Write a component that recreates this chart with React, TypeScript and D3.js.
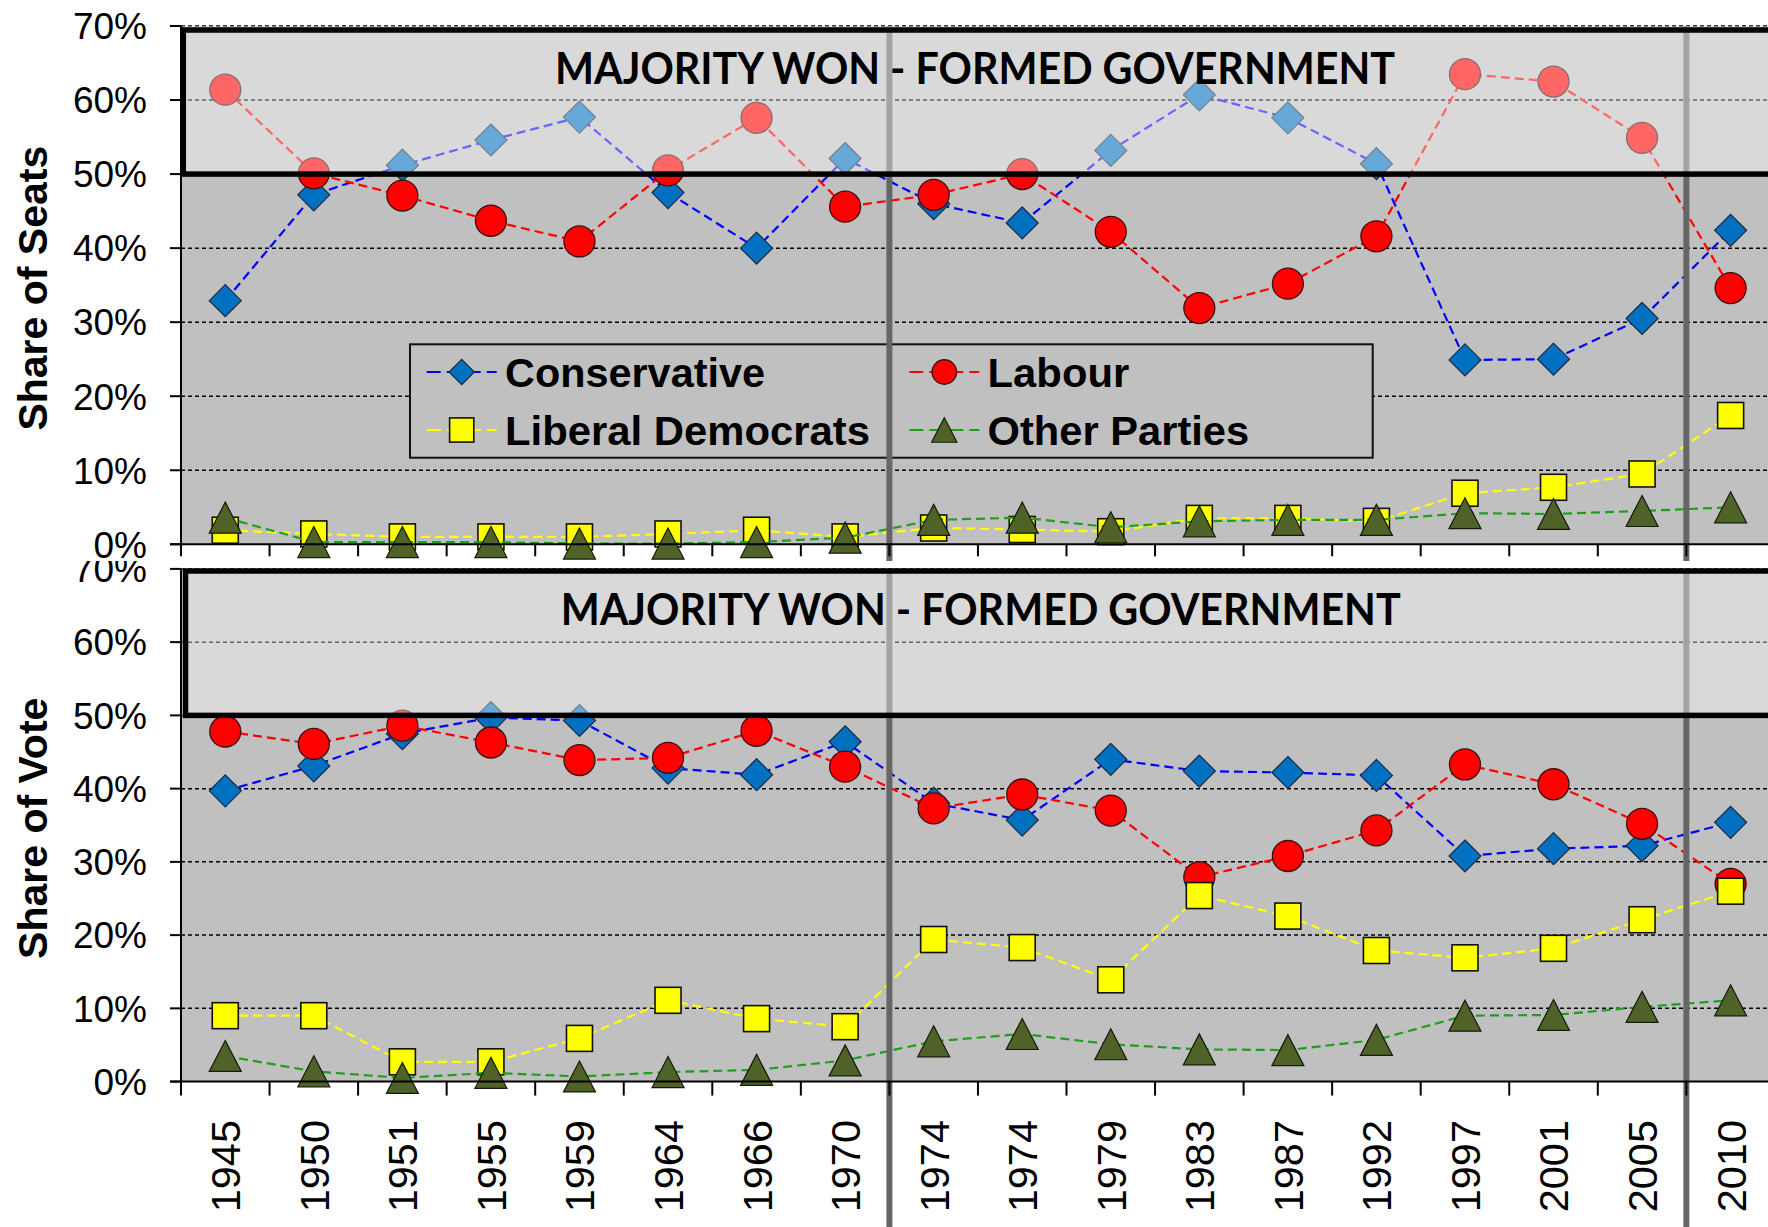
import React from "react";
import * as d3 from "d3";

// election years (two elections in 1974)
const years = ["1945", "1950", "1951", "1955", "1959", "1964", "1966", "1970", "1974", "1974", "1979", "1983", "1987", "1992", "1997", "2001", "2005", "2010"];

// share of seats
const conSeats = [0.329, 0.472, 0.512, 0.546, 0.577, 0.475, 0.400, 0.521, 0.460, 0.434, 0.532, 0.607, 0.576, 0.514, 0.249, 0.250, 0.305, 0.424];
const labSeats = [0.614, 0.501, 0.471, 0.437, 0.409, 0.505, 0.576, 0.456, 0.472, 0.500, 0.422, 0.319, 0.352, 0.416, 0.635, 0.625, 0.549, 0.346];
const libSeats = [0.019, 0.014, 0.010, 0.010, 0.010, 0.014, 0.019, 0.010, 0.022, 0.020, 0.017, 0.035, 0.035, 0.031, 0.069, 0.077, 0.095, 0.174];
const othSeats = [0.036, 0.003, 0.003, 0.003, 0.001, 0.001, 0.003, 0.009, 0.033, 0.036, 0.023, 0.031, 0.033, 0.033, 0.042, 0.041, 0.045, 0.050];

// share of vote
const conVote = [0.397, 0.431, 0.475, 0.497, 0.493, 0.428, 0.419, 0.464, 0.380, 0.357, 0.440, 0.424, 0.422, 0.418, 0.308, 0.318, 0.322, 0.354];
const labVote = [0.478, 0.461, 0.486, 0.463, 0.439, 0.442, 0.479, 0.430, 0.373, 0.392, 0.370, 0.279, 0.308, 0.343, 0.433, 0.406, 0.352, 0.270];
const libVote = [0.090, 0.090, 0.027, 0.027, 0.059, 0.111, 0.086, 0.075, 0.194, 0.183, 0.139, 0.254, 0.226, 0.179, 0.169, 0.182, 0.221, 0.260];
const othVote = [0.035, 0.014, 0.005, 0.012, 0.007, 0.013, 0.016, 0.029, 0.055, 0.065, 0.051, 0.044, 0.043, 0.057, 0.090, 0.091, 0.102, 0.111];

const yTicks = [0, 0.1, 0.2, 0.3, 0.4, 0.5, 0.6, 0.7];
const partyNames = ["Conservative", "Labour", "Liberal Democrats", "Other Parties"];
const titleText = "MAJORITY WON - FORMED GOVERNMENT";

const W = 1768;
const H = 1227;
const LEFT = 181;
const STEP = 88.55;
const ARIAL = "'Liberation Sans', Arial, sans-serif";

const styles = [
  { line: "#0000ff", fill: "#0070c0", stroke: "#1b2a40", shape: "diamond" },
  { line: "#ff0000", fill: "#ff0000", stroke: "#3a1010", shape: "circle" },
  { line: "#ffff00", fill: "#ffff00", stroke: "#111111", shape: "square" },
  { line: "#1f9e1f", fill: "#4f6228", stroke: "#151a0a", shape: "triangle" },
];
// measured widths of the legend labels
const legendWidths = [260, 141.6, 365, 261.6];

const x = d3
  .scaleBand<number>()
  .domain(d3.range(years.length))
  .range([LEFT, LEFT + STEP * years.length]);
const cx = (i: number) => (x(i) as number) + x.bandwidth() / 2;

function Marker({ shape, fill, stroke, s = 1 }: { shape: string; fill: string; stroke: string; s?: number }) {
  if (shape === "circle") return <circle r={15.5 * s} fill={fill} stroke={stroke} strokeWidth={1.3} />;
  if (shape === "square") return <rect x={-13 * s} y={-13 * s} width={26 * s} height={26 * s} fill={fill} stroke={stroke} strokeWidth={1.6} />;
  if (shape === "diamond")
    return <path d={`M0,${-16 * s}L${16 * s},0L0,${16 * s}L${-16 * s},0Z`} fill={fill} stroke={stroke} strokeWidth={1.2} />;
  return <path d={`M0,${-15.5 * s}L${16 * s},${15.5 * s}L${-16 * s},${15.5 * s}Z`} fill={fill} stroke={stroke} strokeWidth={1.2} />;
}

function Panel(props: {
  data: number[][];
  y: d3.ScaleLinear<number, number>;
  axisTitle: string;
  titleX: number;
  titleY: number;
  boxTop: number;
  boxLeft: number;
  sepBottom: number;
  tickLen: number;
  showYears: boolean;
  legend: boolean;
}) {
  const { data, y, axisTitle, titleX, titleY, boxTop, boxLeft, sepBottom, tickLen, showYears, legend } = props;
  const top = y(0.7);
  const bottom = y(0);
  const mid = y(0.5);
  const line = d3
    .line<number>()
    .x((_, i) => cx(i))
    .y((d) => y(d));

  return (
    <g>
      <rect x={LEFT} y={top} width={W - LEFT} height={bottom - top} fill="#c0c0c0" />
      {yTicks
        .filter((t) => t > 0)
        .map((t) => (
          <line key={t} x1={LEFT} x2={W} y1={y(t)} y2={y(t)} stroke="#000" strokeWidth={1.5} strokeDasharray="4,3" />
        ))}

      {data.map((vals, k) => (
        <g key={k}>
          <path d={line(vals) as string} fill="none" stroke={styles[k].line} strokeWidth={2.2} strokeDasharray="9,5" />
          {vals.map((v, i) => (
            <g key={i} transform={`translate(${cx(i)},${y(v)})`}>
              <Marker shape={styles[k].shape} fill={styles[k].fill} stroke={styles[k].stroke} />
            </g>
          ))}
        </g>
      ))}

      {legend && (
        <g>
          <rect x={410} y={344.3} width={962.7} height={113.4} fill="#c0c0c0" stroke="#111" strokeWidth={2} />
          {partyNames.map((name, k) => {
            const col = k % 2;
            const row = k < 2 ? 0 : 1;
            const lx = col === 0 ? 426.7 : 909.3;
            const ly = row === 0 ? 372 : 430;
            const st = styles[k];
            return (
              <g key={name}>
                <line x1={lx} x2={lx + 70} y1={ly} y2={ly} stroke={st.line} strokeWidth={2} strokeDasharray="14,6" />
                <g transform={`translate(${lx + 35},${ly})`}>
                  <Marker shape={st.shape} fill={st.fill} stroke={st.stroke} s={st.shape === "square" ? 0.93 : 0.79} />
                </g>
                <text
                  x={lx + 78.3}
                  y={ly + 14.5}
                  fontFamily={ARIAL}
                  fontWeight="bold"
                  fontSize={41}
                  textLength={legendWidths[k]}
                  lengthAdjust="spacingAndGlyphs"
                  fill="#000"
                >
                  {name}
                </text>
              </g>
            );
          })}
        </g>
      )}

      {[8, 17].map((i) => (
        <line key={i} x1={x(i)} x2={x(i)} y1={top} y2={sepBottom} stroke="#666" strokeWidth={6} />
      ))}

      <rect x={LEFT} y={top} width={W - LEFT} height={mid - top} fill="#fff" fillOpacity={0.4} />

      {/* axes */}
      <line x1={LEFT} x2={LEFT} y1={top} y2={bottom} stroke="#000" strokeWidth={2} />
      <line x1={LEFT - 11} x2={W} y1={bottom} y2={bottom} stroke="#000" strokeWidth={2} />
      {yTicks.map((t) => (
        <g key={t}>
          <line x1={LEFT - 11} x2={LEFT} y1={y(t)} y2={y(t)} stroke="#000" strokeWidth={2} />
          <text x={147} y={y(t)} dy="0.36em" textAnchor="end" fontFamily={ARIAL} fontSize={37} fill="#000">
            {`${Math.round(t * 100)}%`}
          </text>
        </g>
      ))}
      {d3.range(years.length + 1).map((i) => (
        <line key={i} x1={LEFT + i * STEP} x2={LEFT + i * STEP} y1={bottom} y2={bottom + tickLen} stroke="#000" strokeWidth={2} />
      ))}

      <rect x={boxLeft} y={boxTop} width={W + 20 - boxLeft} height={mid - boxTop} fill="none" stroke="#000" strokeWidth={5.5} />

      <text x={titleX} y={titleY} fontFamily="Lato, 'Open Sans', sans-serif" fontWeight="bold" fontSize={43} textLength={840} lengthAdjust="spacingAndGlyphs" fill="#000">
        {titleText}
      </text>

      <text transform={`translate(46.5,${(top + bottom) / 2 + 3}) rotate(-90)`} textAnchor="middle" fontFamily={ARIAL} fontWeight="bold" fontSize={41} fill="#000">
        {axisTitle}
      </text>

      {showYears &&
        years.map((yr, i) => (
          <text key={i} transform={`translate(${cx(i)},${1120}) rotate(-90)`} dy="0.36em" textAnchor="end" fontFamily={ARIAL} fontSize={41.5} fill="#000">
            {yr}
          </text>
        ))}
    </g>
  );
}

export default function App() {
  const yTop = d3.scaleLinear().domain([0, 0.7]).range([544.3, 26]);
  const yBot = d3.scaleLinear().domain([0, 0.7]).range([1081.6, 568.9]);

  return (
    <svg width={W} height={H} style={{ position: "absolute", left: 0, top: 0, background: "#fff" }}>
      <Panel
        data={[conVote, labVote, libVote, othVote]}
        y={yBot}
        axisTitle="Share of Vote"
        titleX={560.7}
        titleY={625}
        boxTop={571}
        boxLeft={185.5}
        sepBottom={H}
        tickLen={14}
        showYears={true}
        legend={false}
      />
      <rect x={0} y={0} width={W} height={561} fill="#fff" />
      <Panel
        data={[conSeats, labSeats, libSeats, othSeats]}
        y={yTop}
        axisTitle="Share of Seats"
        titleX={555}
        titleY={84.3}
        boxTop={30}
        boxLeft={183.3}
        sepBottom={561}
        tickLen={12}
        showYears={false}
        legend={true}
      />
    </svg>
  );
}
